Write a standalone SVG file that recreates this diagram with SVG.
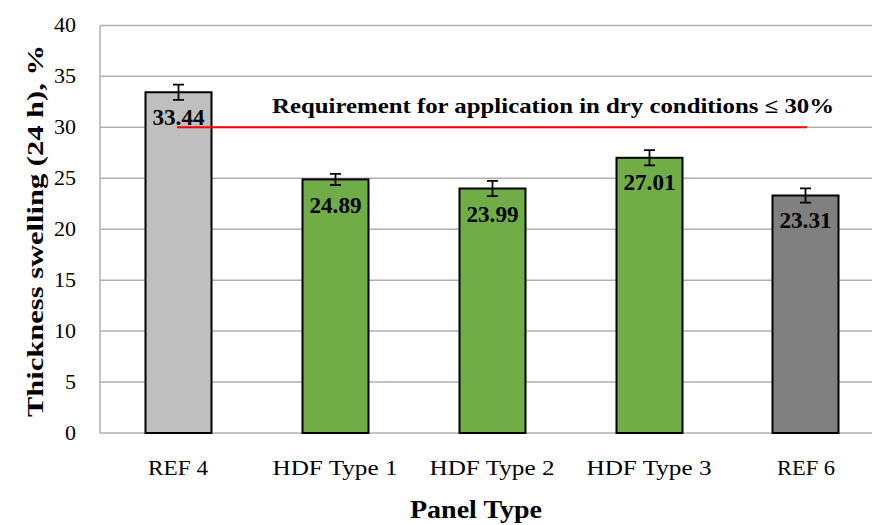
<svg xmlns="http://www.w3.org/2000/svg" width="872" height="525" viewBox="0 0 872 525">
<style>
.grid{stroke:#b0b0b0;stroke-width:1.5;fill:none}
.bar{stroke:#000;stroke-width:2}
.err{stroke:#000;stroke-width:1.8;fill:none}
.tick{font-family:"Liberation Serif","Times New Roman",serif;font-size:22px;fill:#000;text-anchor:end}
.cat{font-family:"Liberation Serif","Times New Roman",serif;font-size:20px;fill:#000;text-anchor:middle}
.val{font-family:"Liberation Serif","Times New Roman",serif;font-size:23px;font-weight:bold;fill:#000;text-anchor:middle}
.ttl{font-family:"Liberation Serif","Times New Roman",serif;font-weight:bold;fill:#000;text-anchor:middle}
</style>
<rect width="872" height="525" fill="#fff"/>
<g id="gridlines">
<line class="grid" x1="100" y1="25.4" x2="872" y2="25.4"/>
<line class="grid" x1="100" y1="76.35" x2="872" y2="76.35"/>
<line class="grid" x1="100" y1="127.3" x2="872" y2="127.3"/>
<line class="grid" x1="100" y1="178.25" x2="872" y2="178.25"/>
<line class="grid" x1="100" y1="229.2" x2="872" y2="229.2"/>
<line class="grid" x1="100" y1="280.15" x2="872" y2="280.15"/>
<line class="grid" x1="100" y1="331.1" x2="872" y2="331.1"/>
<line class="grid" x1="100" y1="382.05" x2="872" y2="382.05"/>
<line class="grid" x1="100" y1="433" x2="872" y2="433"/>
<line class="grid" x1="100" y1="25.4" x2="100" y2="433"/>
</g>
<g id="yticks">
<text class="tick" x="76" y="32.4">40</text>
<text class="tick" x="76" y="83.35">35</text>
<text class="tick" x="76" y="134.3">30</text>
<text class="tick" x="76" y="185.25">25</text>
<text class="tick" x="76" y="236.2">20</text>
<text class="tick" x="76" y="287.15">15</text>
<text class="tick" x="76" y="338.1">10</text>
<text class="tick" x="76" y="389.05">5</text>
<text class="tick" x="76" y="440">0</text>
</g>
<g id="bar-ref4">
<rect class="bar" x="145.5" y="92.25" width="66" height="340.75" fill="#bfbfbf"/>
<path class="err" d="M178.5 84.6V99.9M173 84.6H184M173 99.9H184"/>
<text class="val" x="178.5" y="125" textLength="52" lengthAdjust="spacingAndGlyphs">33.44</text>
</g>
<g id="bar-hdf1">
<rect class="bar" x="302.5" y="179.4" width="66" height="253.6" fill="#70ad47"/>
<path class="err" d="M335.5 173.8V185M330 173.8H341M330 185H341"/>
<text class="val" x="335.5" y="212.5" textLength="52" lengthAdjust="spacingAndGlyphs">24.89</text>
</g>
<g id="bar-hdf2">
<rect class="bar" x="459.5" y="188.5" width="66" height="244.5" fill="#70ad47"/>
<path class="err" d="M492.5 180.9V196.1M487 180.9H498M487 196.1H498"/>
<text class="val" x="492.5" y="221.5" textLength="52" lengthAdjust="spacingAndGlyphs">23.99</text>
</g>
<g id="bar-hdf3">
<rect class="bar" x="616.5" y="157.8" width="66" height="275.2" fill="#70ad47"/>
<path class="err" d="M649.5 150.2V165.4M644 150.2H655M644 165.4H655"/>
<text class="val" x="649.5" y="190" textLength="52" lengthAdjust="spacingAndGlyphs">27.01</text>
</g>
<g id="bar-ref6">
<rect class="bar" x="772.5" y="195.5" width="66" height="237.5" fill="#808080"/>
<path class="err" d="M805.5 188.4V202.6M800 188.4H811M800 202.6H811"/>
<text class="val" x="805.5" y="228.3" textLength="52" lengthAdjust="spacingAndGlyphs">23.31</text>
</g>
<g id="requirement">
<line x1="177" y1="127.3" x2="807" y2="127.3" stroke="#ff0000" stroke-width="2"/>
<text class="ttl" x="553" y="113" font-size="21" textLength="562" lengthAdjust="spacingAndGlyphs">Requirement for application in dry conditions ≤ 30%</text>
</g>
<g id="xlabels">
<text class="cat" x="178" y="475" textLength="60" lengthAdjust="spacingAndGlyphs">REF 4</text>
<text class="cat" x="335" y="475" textLength="125" lengthAdjust="spacingAndGlyphs">HDF Type 1</text>
<text class="cat" x="492" y="475" textLength="125" lengthAdjust="spacingAndGlyphs">HDF Type 2</text>
<text class="cat" x="649" y="475" textLength="125" lengthAdjust="spacingAndGlyphs">HDF Type 3</text>
<text class="cat" x="806" y="475" textLength="58" lengthAdjust="spacingAndGlyphs">REF 6</text>
</g>
<g id="axis-titles">
<text class="ttl" x="476" y="518" font-size="25" textLength="132" lengthAdjust="spacingAndGlyphs">Panel Type</text>
<text class="ttl" transform="translate(43 231) rotate(-90)" x="0" y="0" font-size="24" textLength="372" lengthAdjust="spacingAndGlyphs">Thickness swelling (24 h), %</text>
</g>
</svg>
